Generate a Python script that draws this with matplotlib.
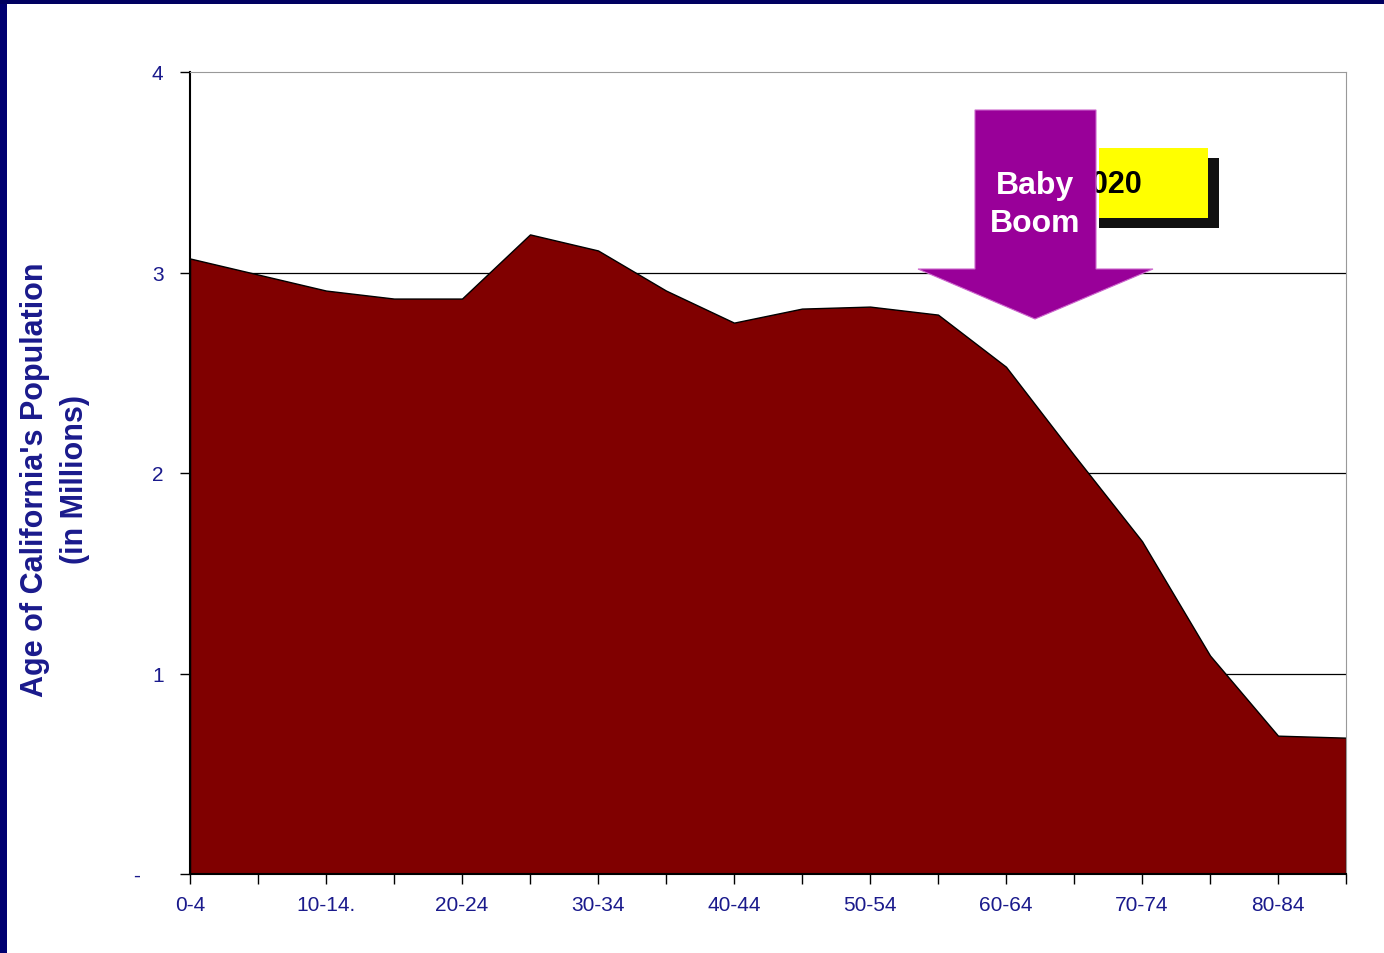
import numpy as np
import matplotlib.pyplot as plt
from matplotlib.patches import Rectangle, Polygon

plt.rcParams['font.family'] = ['Liberation Sans', 'DejaVu Sans']

# age groups (only every other one is labelled on the axis)
age_groups = ['0-4', '5-9', '10-14.', '15-19', '20-24', '25-29', '30-34', '35-39',
              '40-44', '45-49', '50-54', '55-59', '60-64', '65-69', '70-74', '75-79',
              '80-84', '85+']
# population in millions
population = [3.07, 2.99, 2.91, 2.87, 2.87, 3.19, 3.11, 2.91, 2.75, 2.82,
              2.83, 2.79, 2.53, 2.09, 1.66, 1.09, 0.69, 0.68]
y_ticks = [0, 1, 2, 3, 4]
y_tick_labels = ['-    ', '1', '2', '3', '4']

navy = '#1a1a8c'
W, H = 1384, 954

fig = plt.figure(figsize=(W / 100, H / 100), dpi=100)
fig.patch.set_facecolor('white')

# dark frame on left and top of the slide
fig.patches.append(Rectangle((0, 0), 7 / W, 1, transform=fig.transFigure,
                             facecolor='#000070', edgecolor='none', zorder=0))
fig.patches.append(Rectangle((0, 1 - 5 / H), 1, 5 / H, transform=fig.transFigure,
                             facecolor='#000060', edgecolor='none', zorder=0))

ax = fig.add_axes([190 / W, 1 - 875 / H, (1346 - 190) / W, (875 - 73) / H])
x = np.arange(len(population))
ax.fill_between(x, population, 0, facecolor='#800000', edgecolor='black',
                linewidth=1.0, zorder=2)

ax.set_xlim(0, len(population) - 1)
ax.set_ylim(0, 4)
for g in [1, 2, 3]:
    ax.axhline(g, color='black', linewidth=0.9, zorder=1)

ax.set_xticks(x)
ax.set_xticklabels([a if i % 2 == 0 else '' for i, a in enumerate(age_groups)],
                   color=navy, fontsize=15)
ax.set_yticks(y_ticks)
ax.set_yticklabels(y_tick_labels, color=navy, fontsize=15)
ax.tick_params(axis='x', direction='out', length=7, width=1, pad=8, colors='black',
               labelcolor=navy)
ax.tick_params(axis='y', direction='out', length=7, width=1, pad=12, colors='black',
               labelcolor=navy)

ax.spines['left'].set_color('black')
ax.spines['bottom'].set_color('black')
ax.spines['left'].set_linewidth(1.5)
ax.spines['bottom'].set_linewidth(1.5)
ax.spines['top'].set_color('#999999')
ax.spines['right'].set_color('#999999')

fig.text(55 / W, 1 - 480 / H, "Age of California's Population\n(in Millions)",
         rotation=90, ha='center', va='center', color=navy, fontsize=22,
         fontweight='bold', linespacing=1.45)

# yellow "2020" label with shadow, partly hidden by the arrow
def px(xp, yp):
    return (xp / W, 1 - yp / H)

fig.patches.append(Rectangle(px(1099, 229), 120 / W, 70 / H, transform=fig.transFigure,
                             facecolor='#111111', edgecolor='none', zorder=3))
fig.patches.append(Rectangle(px(1099, 219), 109 / W, 70 / H, transform=fig.transFigure,
                             facecolor='#ffff00', edgecolor='none', zorder=4))
fig.text(1108 / W, 1 - 185 / H, '2020', ha='center', va='center', fontsize=22,
         fontweight='bold', color='black', zorder=5)

# big purple "Baby Boom" arrow
arrow_pts = [px(975, 111), px(1096, 111), px(1096, 270), px(1153, 270),
             px(1035, 320), px(918, 270), px(975, 270)]
fig.patches.append(Polygon(arrow_pts, closed=True, transform=fig.transFigure,
                           facecolor='#990099', edgecolor='#cc66cc', linewidth=0.8,
                           zorder=6))
fig.text(1035 / W, 1 - 205 / H, 'Baby\nBoom', ha='center', va='center', fontsize=23,
         fontweight='bold', color='white', linespacing=1.35, zorder=7)

fig.savefig('out.png', dpi=100)
